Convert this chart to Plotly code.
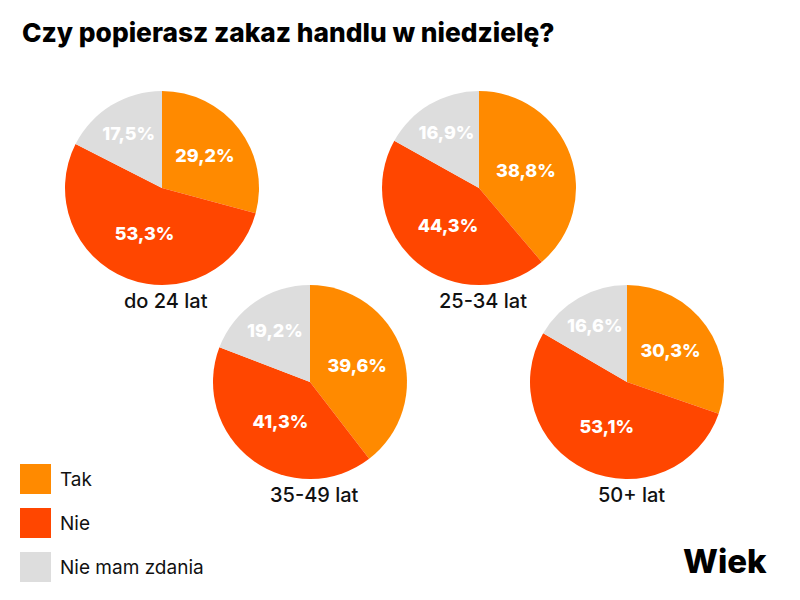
import plotly.graph_objects as go

# data
answers = ["Tak", "Nie", "Nie mam zdania"]
age_groups = ["do 24 lat", "25-34 lat", "35-49 lat", "50+ lat"]
tak = [29.2, 38.8, 39.6, 30.3]
nie = [53.3, 44.3, 41.3, 53.1]
brak = [17.5, 16.9, 19.2, 16.6]

COLORS = ["#FF8A00", "#FF4600", "#DDDDDD"]
FONT = "Inter, Open Sans, Arial"

W, H = 800, 600
PAD = 8  # page body margin in the browser
# pie boxes in pixels (left, top, size)
BOXES = [(65, 91, 194), (382, 91, 194), (213, 285, 194), (530, 285, 194)]


def px(x):
    return (x - PAD) / W


def py(y):
    return 1 - (y - PAD) / H


def pct(v):
    return f"{v:.1f}".replace(".", ",") + "%"


fig = go.Figure()
annotations = []
for i, group in enumerate(age_groups):
    vals = [tak[i], nie[i], brak[i]]
    left, top, size = BOXES[i]
    fig.add_trace(go.Pie(
        labels=answers, values=vals, text=[pct(v) for v in vals],
        textinfo="text", textposition="inside",
        insidetextorientation="horizontal",
        textfont=dict(family=FONT, size=18, color="white", weight=800),
        marker=dict(colors=COLORS, line=dict(width=0)),
        sort=False, direction="clockwise", rotation=0,
        domain=dict(x=[px(left), px(left + size)],
                    y=[py(top + size), py(top)]),
        hoverinfo="label+text", showlegend=False, name=group,
    ))
    annotations.append(dict(
        text=group, x=px(left + size / 2 + 4), y=py(top + size + 16),
        xref="paper", yref="paper", xanchor="center", yanchor="middle",
        showarrow=False,
        font=dict(family=FONT, size=20, color="#111111", weight=500),
    ))

# legend drawn as swatches
shapes = []
for j, name in enumerate(answers):
    y0 = 464 + j * 44
    shapes.append(dict(type="rect", xref="paper", yref="paper",
                       x0=px(20), x1=px(51), y0=py(y0 + 30), y1=py(y0),
                       fillcolor=COLORS[j], line=dict(width=0)))
    annotations.append(dict(
        text=name, x=px(58), y=py(y0 + 15), xref="paper", yref="paper",
        xanchor="left", yanchor="middle", showarrow=False,
        font=dict(family=FONT, size=19, color="#111111"),
    ))

annotations.append(dict(
    text="Wiek", x=px(769), y=py(561), xref="paper", yref="paper",
    xanchor="right", yanchor="middle", showarrow=False,
    font=dict(family=FONT, size=33, color="#000000", weight=800),
))

fig.update_layout(
    width=W, height=H,
    margin=dict(l=0, r=0, t=0, b=0),
    paper_bgcolor="white", plot_bgcolor="white",
    title=dict(text="Czy popierasz zakaz handlu w niedzielę?",
               x=px(22), xanchor="left", y=py(33), yanchor="middle",
               font=dict(family=FONT, size=26.3, color="#000000", weight=800)),
    annotations=annotations, shapes=shapes,
)

fig.write_html("out.html")
